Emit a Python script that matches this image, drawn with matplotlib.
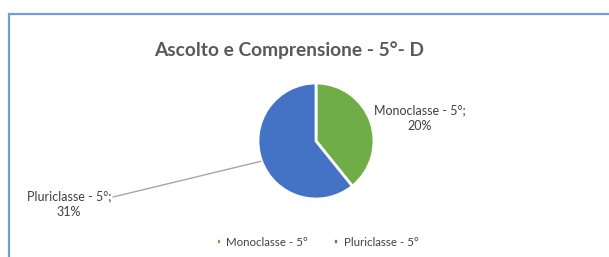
import matplotlib
matplotlib.use("Agg")
import matplotlib.pyplot as plt
from matplotlib.patches import Rectangle

title = "Ascolto e Comprensione - 5°- D"
categories = ["Monoclasse - 5°", "Pluriclasse - 5°"]
values = [20, 31]
colors = ["#70ad47", "#4472c4"]

plt.rcParams['font.family'] = ['Lato', 'DejaVu Sans']

W, H = 609, 257
fig = plt.figure(figsize=(W / 100, H / 100), dpi=100)
fig.patch.set_facecolor("white")

# chart frame
fig.patches.append(Rectangle((8.5 / W, -0.1), 1.2, (H - 13.5) / H + 0.1,
                             transform=fig.transFigure, fill=False,
                             edgecolor="#6aa2d8", linewidth=1.6))

cx, cy, r = 316, H - 141, 58
ax = fig.add_axes([(cx - r) / W, (cy - r) / H, 2 * r / W, 2 * r / H])
wedges, _ = ax.pie(values, colors=colors, startangle=90, counterclock=False,
                   wedgeprops=dict(edgecolor="white", linewidth=2))
ax.set_xlim(-1, 1)
ax.set_ylim(-1, 1)
ax.set_aspect("auto")
ax.axis("off")

fig.text(289 / W, (H - 50) / H, title, ha="center", va="center",
         fontsize=13.8, fontweight="bold", color="#595959")

lab_color = "#3f3f3f"
# Monoclasse label
ax.annotate(f"{categories[0]};\n{values[0]}%", xy=(0, 0), xycoords="data",
            xytext=(420, H - 118), textcoords="figure pixels",
            ha="center", va="center", fontsize=9, color=lab_color,
            linespacing=1.4, annotation_clip=False)
# Pluriclasse label with leader line
ax.annotate(f"{categories[1]};\n{values[1]}%", xy=(-0.93, -0.33), xycoords="data",
            xytext=(69, H - 204), textcoords="figure pixels",
            ha="center", va="center", fontsize=9, color=lab_color,
            linespacing=1.4, annotation_clip=False)
ax.annotate("", xy=(-0.95, -0.35), xycoords="data",
            xytext=(113, H - 197), textcoords="figure pixels",
            arrowprops=dict(arrowstyle="-", color="#a6a6a6", lw=1,
                            shrinkA=0, shrinkB=0),
            annotation_clip=False)

leg = fig.legend(wedges, categories, loc="center", bbox_to_anchor=(317 / W, (H - 242) / H),
                 ncol=2, frameon=False, fontsize=8.3, handlelength=0.45, handleheight=0.45,
                 handletextpad=0.45, columnspacing=2.2, labelcolor="#404040")
fig.savefig("out.png", dpi=100, facecolor="white")
